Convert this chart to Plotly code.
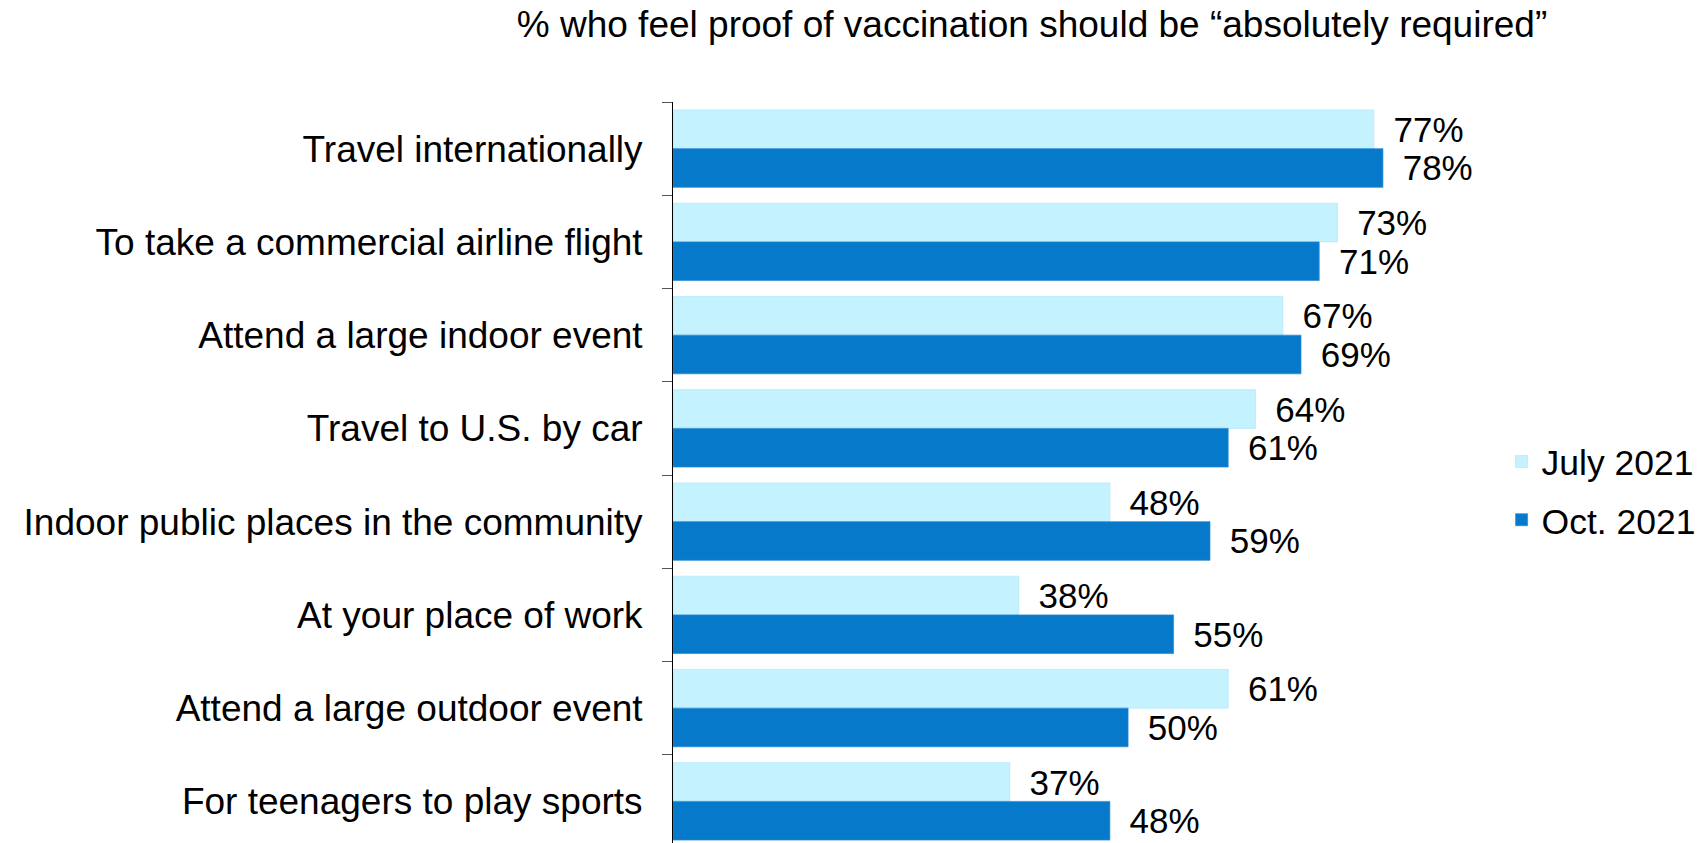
import plotly.graph_objects as go

categories = [
    "Travel internationally",
    "To take a commercial airline flight",
    "Attend a large indoor event",
    "Travel to U.S. by car",
    "Indoor public places in the community",
    "At your place of work",
    "Attend a large outdoor event",
    "For teenagers to play sports",
]
july_2021 = [77, 73, 67, 64, 48, 38, 61, 37]
oct_2021 = [78, 71, 69, 61, 59, 55, 50, 48]
series_names = ["July 2021", "Oct. 2021"]
title_text = "% who feel proof of vaccination should be \u201cabsolutely required\u201d"

FONT = "Liberation Sans, Arial, sans-serif"
W, H = 1701, 843
plot_left, plot_right, plot_top = 673, 1430, 102
px_per_unit = 9.15
cat_px = 93.25

fig = go.Figure()
for name, vals, color, edge, grp in [
    (series_names[0], july_2021, "#C4F2FE", "#B2E6F8", "a"),
    (series_names[1], oct_2021, "#0779CB", "#2A8BD6", "b"),
]:
    fig.add_trace(go.Bar(
        y=categories, x=vals, name=name, orientation="h",
        marker=dict(color=color, line=dict(width=0.7, color=edge)),
        text=[f"\u00a0\u2009{v}%" for v in vals],
        textposition="outside", constraintext="none", cliponaxis=False,
        textfont=dict(family=FONT, size=35, color="#000000"),
        legendgroup=grp, hoverinfo="skip",
    ))

bottom_val = -0.5 + (H - plot_top) / cat_px
fig.update_layout(
    width=W, height=H,
    margin=dict(l=plot_left, r=W - plot_right, t=plot_top, b=0, pad=0),
    paper_bgcolor="white", plot_bgcolor="white",
    barmode="group", bargap=0.17, bargroupgap=0,
    font=dict(family=FONT, size=37, color="#000000"),
    title=dict(text=title_text, xref="container", yref="container",
               x=1032 / W, y=1 - 24 / H, xanchor="center", yanchor="middle",
               font=dict(family=FONT, size=37, color="#000000")),
    xaxis=dict(range=[0, (plot_right - plot_left) / px_per_unit], visible=False,
               fixedrange=True),
    yaxis=dict(range=[bottom_val, -0.5], type="category", showgrid=False,
               showline=True, linecolor="#000000", linewidth=1,
               ticks="outside", tickson="boundaries", ticklen=10,
               tickcolor="#555555", tickwidth=1, ticklabelstandoff=22,
               tickfont=dict(family=FONT, size=37, color="#000000"),
               zeroline=False, fixedrange=True),
    legend=dict(x=(1506 - plot_left) / (plot_right - plot_left), xanchor="left",
                y=1 - (491 - plot_top) / (H - plot_top), yanchor="middle",
                traceorder="grouped", tracegroupgap=9,
                font=dict(family=FONT, size=35.5, color="#000000"),
                bgcolor="rgba(0,0,0,0)", borderwidth=0),
    showlegend=True,
)

fig.write_html("out.html", config={"displayModeBar": False},
               post_script="document.body.style.margin='0';")
